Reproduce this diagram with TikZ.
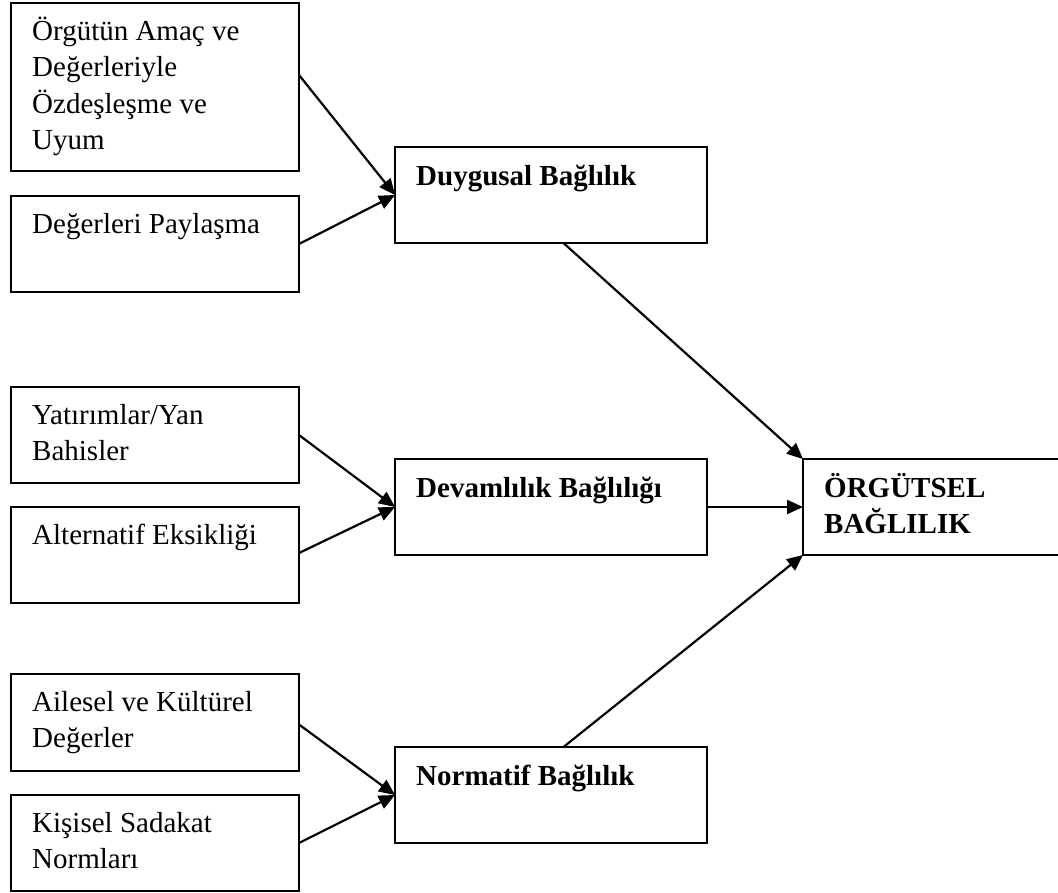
\documentclass[tikz,border=0pt]{standalone}
\usepackage{fontspec}
\setmainfont{Liberation Serif}
\usetikzlibrary{arrows.meta,calc}
\newcommand{\mylines}[1]{\vtop{\baselineskip=36.5pt\lineskiplimit=-20pt #1}}
\begin{document}
\begin{tikzpicture}[x=1pt,y=-1pt,
  box/.style={draw=black,line width=2.2pt,anchor=north west,inner sep=0pt,outer sep=0pt},
  txt/.style={anchor=base west,inner sep=0pt,font=\fontsize{29}{36.5}\selectfont},
  btxt/.style={txt,font=\fontsize{29}{36.5}\selectfont\bfseries},
  arr/.style={line width=2.2pt,-{Triangle[length=16pt,width=14pt]}}]
\clip (0,0) rectangle (1058,892);
\fill[white] (0,0) rectangle (1058,892);
% left boxes
\node[box,minimum width=288pt,minimum height=168pt] (A) at (11,3) {};
\node[box,minimum width=288pt,minimum height=96pt] (B) at (11,196) {};
\node[box,minimum width=288pt,minimum height=96pt] (C) at (11,387) {};
\node[box,minimum width=288pt,minimum height=96pt] (D) at (11,507) {};
\node[box,minimum width=288pt,minimum height=97pt] (E) at (11,674) {};
\node[box,minimum width=288pt,minimum height=96pt] (F) at (11,795) {};
% middle boxes
\node[box,minimum width=312pt,minimum height=96pt] (Duy) at (395,147) {};
\node[box,minimum width=312pt,minimum height=96pt] (Dev) at (395,459) {};
\node[box,minimum width=312pt,minimum height=96pt] (Nor) at (395,747) {};
% right box
\node[box,minimum width=300pt,minimum height=96pt] (Org) at (803,459) {};
% texts
\node[txt] (At) at ($(A.north west)+(21,37)$) {\mylines{\hbox{Örgütün Amaç ve}\hbox{Değerleriyle}\hbox{Özdeşleşme ve}\hbox{Uyum}}};
\node[txt] (Bt) at ($(B.north west)+(21,37)$) {Değerleri Paylaşma};
\node[txt] (Ct) at ($(C.north west)+(21,37)$) {\mylines{\hbox{Yatırımlar/Yan}\hbox{Bahisler}}};
\node[txt] (Dt) at ($(D.north west)+(21,37)$) {Alternatif Eksikliği};
\node[txt] (Et) at ($(E.north west)+(21,37)$) {\mylines{\hbox{Ailesel ve Kültürel}\hbox{Değerler}}};
\node[txt] (Ft) at ($(F.north west)+(21,37)$) {\mylines{\hbox{Kişisel Sadakat}\hbox{Normları}}};
\node[btxt] (Duyt) at ($(Duy.north west)+(21,38)$) {Duygusal Bağlılık};
\node[btxt] (Devt) at ($(Dev.north west)+(21,38)$) {Devamlılık Bağlılığı};
\node[btxt] (Nort) at ($(Nor.north west)+(21,38)$) {Normatif Bağlılık};
\node[btxt] (Orgt) at ($(Org.north west)+(21,38)$) {\mylines{\hbox{ÖRGÜTSEL}\hbox{BAĞLILIK}}};
% connectors
\draw[arr] ([yshift=12pt]A.east) -- (Duy.west);
\draw[arr] (B.east) -- (Duy.west);
\draw[arr] (C.east) -- (Dev.west);
\draw[arr] ([yshift=2pt]D.east) -- (Dev.west);
\draw[arr] ([yshift=-2pt]E.east) -- (Nor.west);
\draw[arr] (F.east) -- (Nor.west);
\draw[arr] (Dev.east) -- (Org.west);
\draw[arr] ($(Duy.south west)!0.54!(Duy.south east)$) -- (Org.north west);
\draw[arr] ($(Nor.north west)!0.54!(Nor.north east)$) -- (Org.south west);
\end{tikzpicture}
\end{document}
